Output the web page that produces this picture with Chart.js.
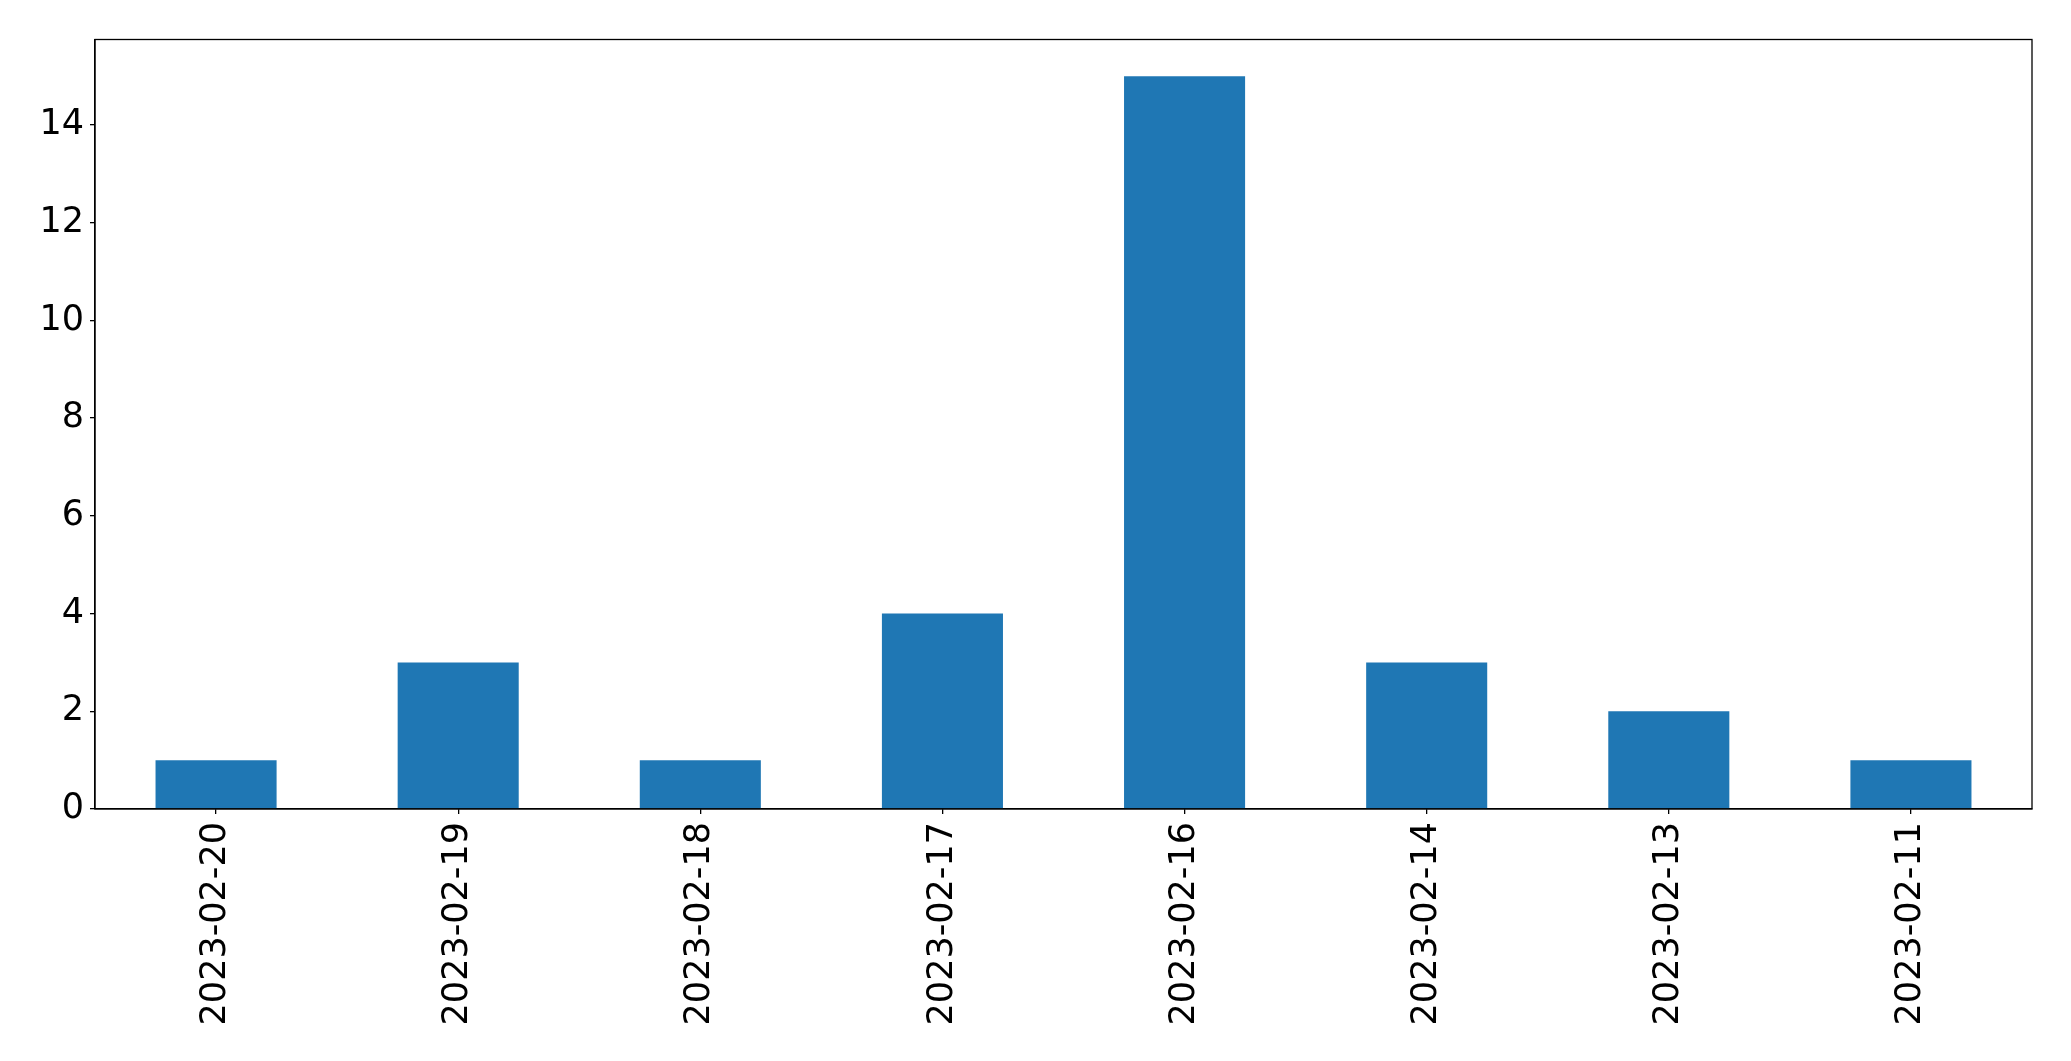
<!DOCTYPE html>
<html>
<head>
<meta charset="utf-8">
<script src="https://cdn.jsdelivr.net/npm/chart.js@4"></script>
<style>
  html, body { margin: 0; padding: 0; background: #fff; }
  #wrap { width: 2071px; height: 1061px; }
</style>
</head>
<body>
<div id="wrap"><canvas id="myBarChart" width="2071" height="1061"></canvas></div>
<script>
const days = ["2023-02-20", "2023-02-19", "2023-02-18", "2023-02-17", "2023-02-16", "2023-02-14", "2023-02-13", "2023-02-11"];
const counts = [1, 3, 1, 4, 15, 3, 2, 1];
const yTicks = [0, 2, 4, 6, 8, 10, 12, 14];

const barColor = "#1f77b4";
const fontFamily = "'DejaVu Sans', sans-serif";

// draws the full box around the plot, like matplotlib does
const frame = {
  id: "frame",
  afterDraw(chart) {
    const { ctx, chartArea: a } = chart;
    ctx.save();
    ctx.strokeStyle = "#000";
    ctx.lineWidth = 1.3;
    ctx.strokeRect(a.left, a.top, a.right - a.left, a.bottom - a.top);
    ctx.restore();
  }
};

Chart.defaults.font.family = fontFamily;
Chart.defaults.color = "#000";

new Chart(document.getElementById("myBarChart"), {
  type: "bar",
  data: {
    labels: days,
    datasets: [{
      data: counts,
      backgroundColor: barColor,
      categoryPercentage: 1,
      barPercentage: 0.5
    }]
  },
  options: {
    responsive: false,
    animation: false,
    layout: { padding: { left: 0, top: 39.5, right: 39, bottom: 0 } },
    scales: {
      x: {
        grid: { offset: false, drawOnChartArea: false, tickLength: 5, color: "#000", lineWidth: 1.3 },
        border: { display: true, color: "#000", width: 1.3 },
        ticks: {
          font: { size: 35 },
          maxRotation: 90,
          minRotation: 90,
          padding: 8,
          autoSkip: false
        },
        afterFit(s) { s.height = 1061 - 809; }
      },
      y: {
        min: 0,
        max: 15.75,
        grid: { drawOnChartArea: false, tickLength: 5, color: "#000", lineWidth: 1.3 },
        border: { display: true, color: "#000", width: 1.3 },
        ticks: { font: { size: 35 }, stepSize: 2, padding: 6 },
        afterBuildTicks(s) {
          s.ticks = yTicks.map(v => ({ value: v }));
        },
        afterFit(s) { s.width = 95; }
      }
    },
    plugins: {
      legend: { display: false },
      tooltip: { enabled: false }
    }
  },
  plugins: [frame]
});
</script>
</body>
</html>
